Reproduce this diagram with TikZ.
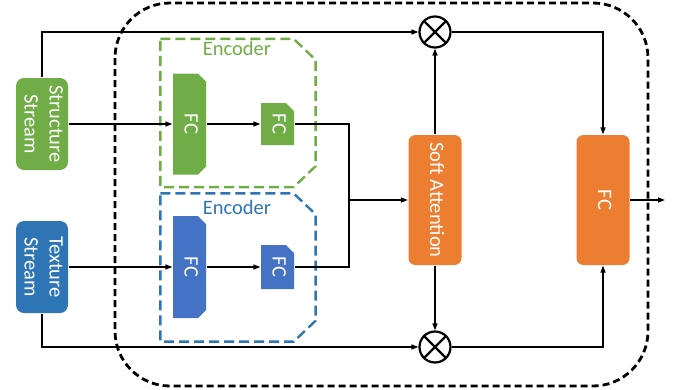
\documentclass[tikz,border=0pt]{standalone}
\usepackage{fontspec}
\setmainfont{Carlito}
\usetikzlibrary{shapes.misc,arrows.meta}
\definecolor{sgreen}{HTML}{70AD47}
\definecolor{tblue}{HTML}{2E75B6}
\definecolor{fcblue}{HTML}{4472C4}
\definecolor{attorange}{HTML}{ED7D31}
\newcommand{\vtext}[1]{\rotatebox{-90}{\begin{tabular}{@{}c@{}}#1\end{tabular}}}
\newcommand{\encoderframe}[2]{\draw[#2,dash pattern=on 10pt off 5pt,line width=2.4pt] (#1.north west) -- ([xshift=-22pt]#1.north east) -- ([yshift=-21pt]#1.north east) -- ([yshift=21pt]#1.south east) -- ([xshift=-22pt]#1.south east) -- (#1.south west) -- cycle;}
\tikzstyle{stream}=[rounded corners=8pt,minimum width=52pt,minimum height=92pt,inner sep=0pt,text=white]
\tikzstyle{fcblock}=[chamfered rectangle,chamfered rectangle xsep=4pt,chamfered rectangle ysep=4pt,minimum width=29pt,inner sep=0pt,text=white]
\tikzstyle{encoder}=[rectangle,minimum width=154pt,minimum height=147pt,inner sep=0pt]
\tikzstyle{block}=[rounded corners=7pt,fill=attorange,minimum width=53pt,minimum height=130pt,inner sep=0pt,text=white]
\tikzstyle{mult}=[circle,draw,line width=2.2pt,minimum size=31pt,inner sep=0pt]

\begin{document}
\begin{tikzpicture}[x=1pt,y=-1pt,>={Triangle[length=7pt,width=5pt]},line width=1.3pt,font=\fontsize{20.5}{25}\selectfont]
\useasboundingbox (0,0) rectangle (678,389);
\draw[dash pattern=on 7pt off 4pt,line width=2.8pt,rounded corners=55pt] (115,3) rectangle (648,386);
\node[stream,fill=sgreen] (ss) at (42,124) {\vtext{Structure\\Stream}};
\node[stream,fill=tblue] (ts) at (42,267) {\vtext{Texture\\Stream}};
\node[encoder] (genc) at (238,113) {};
\encoderframe{genc}{sgreen}
\node[text=sgreen] (glabel) at (237,48) {Encoder};
\node[encoder] (benc) at (238,267.5) {};
\encoderframe{benc}{tblue}
\node[text=tblue] (blabel) at (237,207) {Encoder};
\node[fcblock,fill=sgreen,minimum height=101pt,chamfered rectangle corners={north east,south east}] (gfc1) at (189.5,124) {\vtext{FC}};
\node[fcblock,fill=sgreen,minimum height=42pt,chamfered rectangle corners=north east] (gfc2) at (277.5,124) {\vtext{FC}};
\node[fcblock,fill=fcblue,minimum height=102pt,chamfered rectangle corners={north east,south east}] (bfc1) at (189.5,267) {\vtext{FC}};
\node[fcblock,fill=fcblue,minimum height=44pt,chamfered rectangle corners=north east] (bfc2) at (277.5,267) {\vtext{FC}};
\node[block] (sa) at (435,200) {\vtext{Soft Attention}};
\node[block] (fc3) at (603,200) {\vtext{FC}};
\node[mult] (mt) at (435,32) {};
\node[mult] (mb) at (435,347) {};
\draw[line width=2.2pt] (mt.north west) -- (mt.south east);
\draw[line width=2.2pt] (mt.north east) -- (mt.south west);
\draw[line width=2.2pt] (mb.north west) -- (mb.south east);
\draw[line width=2.2pt] (mb.north east) -- (mb.south west);
\coordinate (join) at (349,200);
\coordinate (out) at (665,200);
\draw[->] (ss.east) -- (gfc1.west);
\draw[->] (gfc1.east) -- (gfc2.west);
\draw[->] (ts.east) -- (bfc1.west);
\draw[->] (bfc1.east) -- (bfc2.west);
\draw (gfc2.east) -| (join);
\draw (bfc2.east) -| (join);
\draw[->] (join) -- (sa.west);
\draw[->] (ss.north) |- (mt.west);
\draw[->] (ts.south) |- (mb.west);
\draw[->] (sa.north) -- (mt.south);
\draw[->] (sa.south) -- (mb.north);
\draw[->] (mt.east) -| (fc3.north);
\draw[->] (mb.east) -| (fc3.south);
\draw[->] (fc3.east) -- (out);
\end{tikzpicture}
\end{document}
